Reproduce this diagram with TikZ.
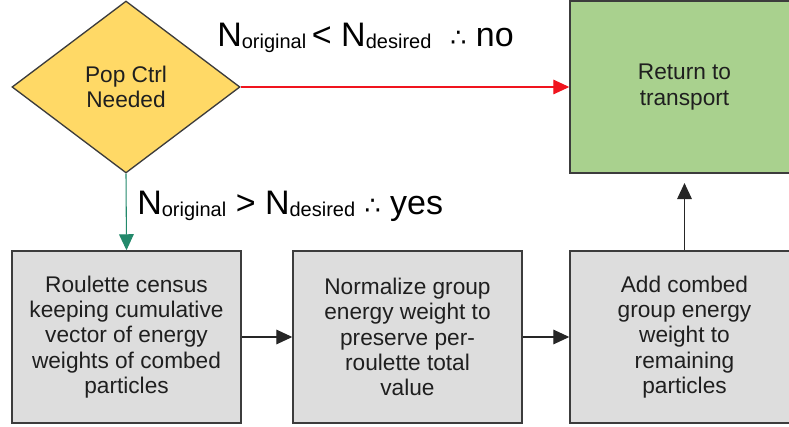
\documentclass[tikz,border=0pt]{standalone}
\usepackage{fontspec}
\setmainfont{Liberation Sans}
\newfontfamily\symfont{DejaVu Sans}
\usetikzlibrary{shapes.geometric,arrows.meta}
\definecolor{decfill}{HTML}{FFD966}
\definecolor{retfill}{HTML}{A9D18E}
\definecolor{stepfill}{HTML}{DDDDDD}
\definecolor{edgegray}{HTML}{3C3C3C}
\definecolor{noline}{HTML}{F0141E}
\definecolor{yesline}{HTML}{23896B}
\newcommand{\Nsub}[1]{N\raisebox{-1.5pt}{\fontsize{15}{15}\selectfont #1}}
\newcommand{\thus}{{\symfont\fontsize{19}{19}\selectfont ∴}}
\begin{document}
\begin{tikzpicture}[x=0.75pt, y=-0.75pt,
    boxtext/.style={font=\fontsize{17}{18.9}\selectfont, text=black!88, align=center},
    decbox/.style={diamond, draw=edgegray, line width=1pt, fill=decfill,
      minimum width=171pt, minimum height=129pt, inner sep=0pt, boxtext},
    procbox/.style={rectangle, draw=edgegray, line width=1.1pt, fill=stepfill,
      minimum width=171.75pt, minimum height=129pt, inner sep=0pt, boxtext},
    tip/.style={-{Triangle[length=12pt,width=11pt]}},
    flow/.style={tip, line width=0.9pt, draw=black!85},
    condlbl/.style={font=\fontsize{25.5}{25.5}\selectfont, inner sep=0pt}]
  \useasboundingbox (0,0) rectangle (789,427);

  %% ── Decision and exit ────────────────────────────────────
  \node[decbox] (popctrl) at (126,87) {Pop Ctrl\\Needed};
  \node[procbox, fill=retfill] (transport) at (684.5,87) {Return to\\transport};

  %% ── Combing steps ────────────────────────────────────────
  \node[procbox] (census) at (126.5,337)
    {Roulette census\\keeping cumulative\\vector of energy\\weights of combed\\particles};
  \node[procbox] (normalize) at (407.5,337)
    {Normalize group\\energy weight to\\preserve per-\\roulette total\\value};
  \node[procbox] (addback) at (684.5,337)
    {Add combed\\group energy\\weight to\\remaining\\particles};

  %% ── Connectors ───────────────────────────────────────────
  \draw[tip, noline, line width=0.8pt] (popctrl.east) -- (transport.west);
  \draw[tip, yesline, line width=0.8pt] (popctrl.south) -- (census.north);
  \draw[flow] (census.east) -- (normalize.west);
  \draw[flow] (normalize.east) -- (addback.west);
  \draw[flow, shorten >=7pt] (addback.north) -- (transport.south);

  %% ── Branch labels ────────────────────────────────────────
  \node[condlbl, anchor=base west] (nolbl) at (217,47)
    {\Nsub{original}\,<\ \Nsub{desired}\ \ \thus\ no};
  \node[condlbl, anchor=base west] (yeslbl) at (137,215)
    {\Nsub{original}\ >\ \Nsub{desired}\ \thus\ yes};
\end{tikzpicture}
\end{document}
